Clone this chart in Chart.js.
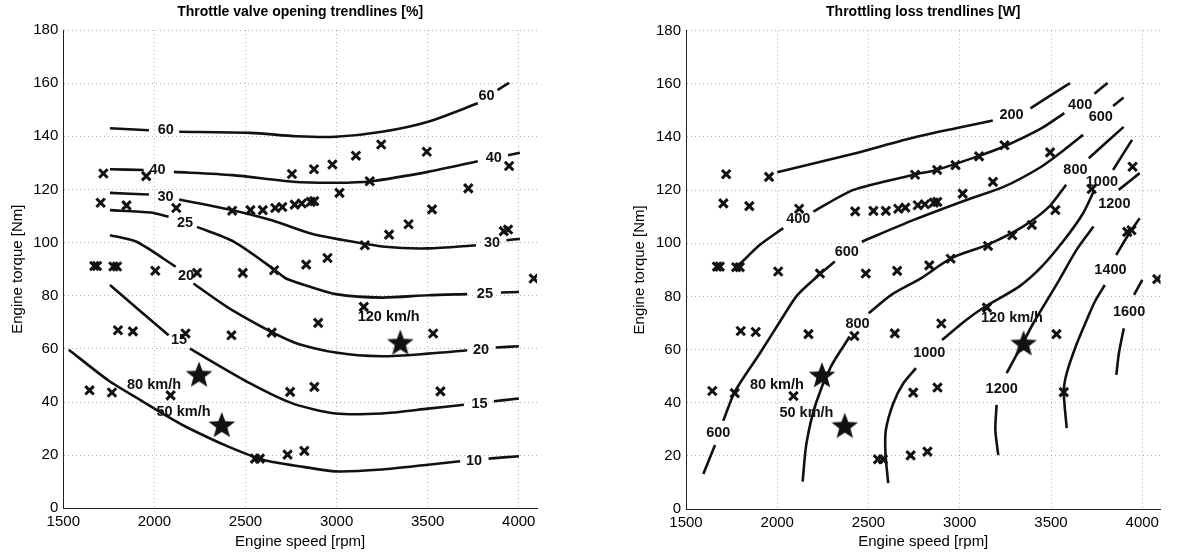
<!DOCTYPE html>
<html>
<head>
<meta charset="utf-8">
<script src="https://cdn.jsdelivr.net/npm/chart.js@4.4.1/dist/chart.umd.min.js"></script>
<style>
  html, body { margin: 0; padding: 0; background: #fff; }
  #wrap { position: relative; width: 1180px; height: 559px; }
  canvas { position: absolute; top: 0; }
  #throttle { left: 0; }
  #loss { left: 590px; }
</style>
</head>
<body>
<div id="wrap">
  <canvas id="throttle" width="590" height="559"></canvas>
  <canvas id="loss" width="590" height="559"></canvas>
</div>
<script>
// axis ticks
const speedTicks = [1500, 2000, 2500, 3000, 3500, 4000];
const torqueTicks = [0, 20, 40, 60, 80, 100, 120, 140, 160, 180];

// measured operating points [rpm, Nm] (same in both plots)
const measuredPoints = [
  [1670, 91.2], [1685, 91.2], [1775, 91], [1795, 91],
  [1720, 126], [1955, 125], [1705, 115], [1847, 114], [2120, 113],
  [2427, 112], [2527, 112.2], [2595, 112.2], [2663, 113], [2702, 113.4],
  [2770, 114.3], [2809, 114.7], [2858, 115.3], [2877, 115.6],
  [2755, 125.8], [2876, 127.6], [2977, 129.4], [3106, 132.7], [3245, 136.9], [3495, 134.2],
  [3016, 118.7], [3182, 123.1], [3723, 120.4], [3947, 128.8],
  [3524, 112.5], [3395, 106.9], [3288, 103], [3155, 99], [3918, 104.3], [3941, 104.9],
  [4082, 86.5], [2950, 94.2], [2833, 91.7], [2657, 89.6], [2485, 88.6], [2234, 88.6], [2005, 89.4],
  [1800, 67], [1882, 66.6], [2171, 65.8], [2423, 65.1], [2644, 66.1], [2899, 69.8], [3149, 75.8], [3530, 65.8],
  [1644, 44.4], [1767, 43.6], [2089, 42.5], [2745, 43.8], [2878, 45.7], [3570, 44],
  [2552, 18.7], [2579, 18.7], [2731, 20.2], [2823, 21.6]
];

// driving cycle points (stars) and their labels
const cyclePoints = [[2245, 50], [2370, 31], [3350, 62]];
const cycleLabels = [['80 km/h', 1998, 46.5], ['50 km/h', 2160, 36.3], ['120 km/h', 3286, 71.9]];

// throttle valve opening trendlines [%], each split where its label sits
const throttle60 = [[[1756, 143], [1970, 142.3]],
  [[2136, 141.7], [2526, 141.3], [2780, 140], [2995, 139.8], [3249, 141.7], [3502, 145.5], [3775, 152.4]],
  [[3883, 157.4], [3947, 160.1]]];
const throttle40 = [[[1756, 127.6], [1941, 127.3]],
  [[2107, 126.6], [2429, 125.4], [2761, 122.9], [2995, 122.5], [3190, 123.1], [3502, 126.6], [3775, 130.6]],
  [[3941, 132.9], [4006, 133.8]]];
const throttle30 = [[[1756, 118.7], [1970, 118.1]],
  [[2136, 116.2], [2429, 112.2], [2644, 108.4], [2858, 103.4], [3014, 101.2], [3267, 98.4], [3502, 97.8], [3765, 99]],
  [[3932, 100.9], [4006, 101.4]]];
const throttle25 = [[[1756, 112.2], [1980, 111.3], [2078, 109.7]],
  [[2234, 105.9], [2429, 100.6], [2663, 89.6], [2722, 86.5], [2858, 83.3], [2995, 80.6], [3249, 79.3], [3502, 80.2], [3717, 80.6]],
  [[3902, 81.2], [4001, 81.4]]];
const throttle20 = [[[1756, 102.8], [1902, 100.3], [2117, 90.9]],
  [[2214, 84.6], [2429, 74.5], [2761, 62.6], [2995, 58.6], [3249, 57.2], [3502, 58.2], [3717, 59.5]],
  [[3873, 60.5], [4001, 61]]];
const throttle15 = [[[1756, 84], [2078, 65.1]],
  [[2195, 60.1], [2526, 47], [2761, 39.4], [2995, 35.7], [3249, 35.7], [3502, 37.5], [3699, 39]],
  [[3863, 40.3], [4001, 41.3]]];
const throttle10 = [[[1530, 59.7], [1746, 48.2], [1941, 40], [2076, 34.4], [2175, 30.6], [2409, 23.1], [2605, 18.1],
  [2819, 15.6], [2995, 13.9], [3249, 14.6], [3502, 16.4], [3678, 17.7]],
  [[3834, 18.7], [4001, 19.6]]];
const throttleLabels = [
  ['60', 2062, 142.3], ['60', 3823, 155], ['40', 2017, 127.3], ['40', 3863, 131.7],
  ['30', 2061, 117.2], ['30', 3853, 99.7], ['25', 2168, 107.4], ['25', 3814, 80.6],
  ['20', 2174, 87.3], ['20', 3793, 59.7], ['15', 2135, 63.3], ['15', 3785, 39.4], ['10', 3754, 17.8]
];

// throttling loss trendlines [W]
const loss200 = [[[2000, 126.7], [2418, 133.7], [2769, 140.2], [3181, 146.2]],
  [[3387, 150.8], [3604, 160.3]]];
const loss400 = [[[1796, 92.2], [1905, 99.4], [2033, 105.7]],
  [[2198, 111.9], [2418, 120.1], [2748, 125.8], [2872, 127.6], [3098, 132.7], [3243, 136.4], [3449, 143.3], [3573, 149]],
  [[3738, 156.3], [3810, 160.3]]];
const loss600 = [[[1595, 13.2], [1659, 24.1]],
  [[1704, 33.2], [1768, 44.2], [1905, 58.6], [2010, 70], [2110, 80.5], [2234, 88.4], [2316, 93.1]],
  [[2463, 100.6], [2748, 108.8], [3037, 116.3], [3243, 121.3], [3449, 128.9], [3573, 135.2], [3676, 140.8]],
  [[3840, 151.7], [3898, 154.9]]];
const loss800 = [[[2139, 10.3], [2160, 24.7], [2212, 39.8], [2294, 53.6], [2397, 64.9]],
  [[2501, 73.7], [2625, 80.6], [2789, 86.9], [2954, 94.4], [3150, 99.4], [3346, 106.3], [3490, 113.8], [3583, 122]],
  [[3707, 132], [3898, 143.8]]];
const loss1000 = [[[2608, 9.7], [2593, 21], [2595, 29.7], [2636, 39.8], [2691, 47.3], [2760, 53]],
  [[2903, 63.6], [3037, 71.2], [3140, 76.2], [3325, 83.7], [3449, 91.2], [3573, 101.3], [3676, 111.3], [3738, 120.1]],
  [[3840, 127.6], [3944, 138.9]]];
const loss1200 = [[[3211, 20.3], [3195, 29.7], [3202, 39.2]],
  [[3257, 51.1], [3340, 61.7], [3403, 69.9], [3535, 85], [3640, 97.5], [3733, 106.3]],
  [[3871, 120.1], [3986, 126.4]]];
const loss1400 = [[[3586, 30.4], [3570, 44.2], [3586, 51.1], [3640, 62], [3696, 71.2], [3740, 78], [3795, 84.3]],
  [[3857, 95.6], [3929, 103.8], [3986, 109.4]]];
const loss1600 = [[[3858, 50.5], [3872, 58.6], [3899, 68]],
  [[3955, 80.6], [4000, 86.2]]];
const lossLabels = [
  ['200', 3284, 148.3], ['400', 2115, 109], ['400', 3660, 152], ['600', 1677, 28.5], ['600', 2381, 96.9],
  ['600', 3773, 147.5], ['800', 2440, 69.5], ['800', 3634, 127.6], ['1000', 2833, 58.6], ['1000', 3779, 123.2],
  ['1200', 3230, 45.1], ['1200', 3847, 114.8], ['1400', 3826, 90], ['1600', 3928, 74.3]
];

Chart.defaults.font.family = '"Liberation Sans", Arial, Helvetica, sans-serif';
Chart.defaults.color = '#000';

function starImage(r) {
  const c = document.createElement('canvas');
  c.width = c.height = 2 * r + 2;
  const g = c.getContext('2d');
  g.fillStyle = '#111';
  g.beginPath();
  for (let i = 0; i < 10; i++) {
    const a = -Math.PI / 2 + i * Math.PI / 5;
    const rr = i % 2 ? r * 0.42 : r;
    g.lineTo(r + 1 + rr * Math.cos(a), r + 1 + rr * Math.sin(a));
  }
  g.closePath();
  g.fill();
  return c;
}
const star = starImage(14);

function toXY(list) {
  return list.map(([x, y]) => ({x, y}));
}

function lineSets(levels) {
  return levels.flatMap(segs => segs.map(seg => ({
    data: toXY(seg),
    showLine: true,
    borderColor: '#111',
    borderWidth: 2.6,
    pointRadius: 0,
    tension: 0.25,
    order: 3
  })));
}

// text written on the plot (contour values and speeds)
function textPlugin(items) {
  return {
    id: 'plotText',
    afterDatasetsDraw(chart) {
      const {ctx, scales: {x, y}} = chart;
      ctx.save();
      ctx.fillStyle = '#111';
      ctx.textAlign = 'center';
      ctx.textBaseline = 'middle';
      ctx.font = 'bold 14.5px "Liberation Sans", Arial, sans-serif';
      items.forEach(([t, vx, vy]) => ctx.fillText(t, x.getPixelForValue(vx), y.getPixelForValue(vy)));
      ctx.restore();
    }
  };
}

function makeChart(id, title, levels, labels, box) {
  const ctx = document.getElementById(id).getContext('2d');
  return new Chart(ctx, {
    type: 'scatter',
    data: {
      datasets: [
        {
          data: toXY(cyclePoints),
          pointStyle: star,
          pointRadius: 14,
          order: 1
        },
        {
          data: toXY(measuredPoints),
          pointStyle: 'crossRot',
          pointRadius: 6,
          borderWidth: 3,
          borderColor: '#111',
          order: 2
        },
        ...lineSets(levels)
      ]
    },
    options: {
      responsive: false,
      devicePixelRatio: 1,
      animation: false,
      layout: {padding: {left: box.padLeft, right: box.padRight, top: 0, bottom: 0}},
      plugins: {
        legend: {display: false},
        tooltip: {enabled: false},
        title: {
          display: true,
          text: title,
          fullSize: false,
          color: '#000',
          font: {size: 14, weight: 'bold'},
          padding: {top: 4, bottom: box.titleBottom}
        }
      },
      scales: {
        x: {
          type: 'linear',
          min: 1500,
          max: 4100,
          afterBuildTicks: s => { s.ticks = speedTicks.map(v => ({value: v})); },
          afterFit: s => { s.height = box.xHeight; },
          grid: {color: 'rgba(0,0,0,0.3)', lineWidth: 1, drawTicks: false},
          border: {display: true, color: '#222', width: 1, dash: [1, 3]},
          ticks: {color: '#000', font: {size: 15}, padding: 5, maxRotation: 0, autoSkip: false,
            callback: v => String(v)},
          title: {display: true, text: 'Engine speed [rpm]', color: '#000', font: {size: 15}, padding: {top: 0, bottom: 8.3}}
        },
        y: {
          type: 'linear',
          min: 0,
          max: 180,
          afterBuildTicks: s => { s.ticks = torqueTicks.map(v => ({value: v})); },
          afterFit: s => { s.width = box.yWidth; },
          grid: {color: 'rgba(0,0,0,0.3)', lineWidth: 1, drawTicks: false},
          border: {display: true, color: '#222', width: 1, dash: [1, 3]},
          ticks: {color: '#000', font: {size: 15}, padding: 5, callback: v => String(v)},
          title: {display: true, text: 'Engine torque [Nm]', color: '#000', font: {size: 15}, padding: {top: 9, bottom: 0}}
        }
      }
    },
    plugins: [textPlugin(labels.concat(cycleLabels))]
  });
}

makeChart('throttle', 'Throttle valve opening trendlines [%]',
  [throttle60, throttle40, throttle30, throttle25, throttle20, throttle15, throttle10],
  throttleLabels,
  {padLeft: 0, padRight: 53, yWidth: 63.3, xHeight: 50.7, titleBottom: 9.2});

makeChart('loss', 'Throttling loss trendlines [W]',
  [loss200, loss400, loss600, loss800, loss1000, loss1200, loss1400, loss1600],
  lossLabels,
  {padLeft: 32, padRight: 19.5, yWidth: 64, xHeight: 50, titleBottom: 9.9});
</script>
</body>
</html>
